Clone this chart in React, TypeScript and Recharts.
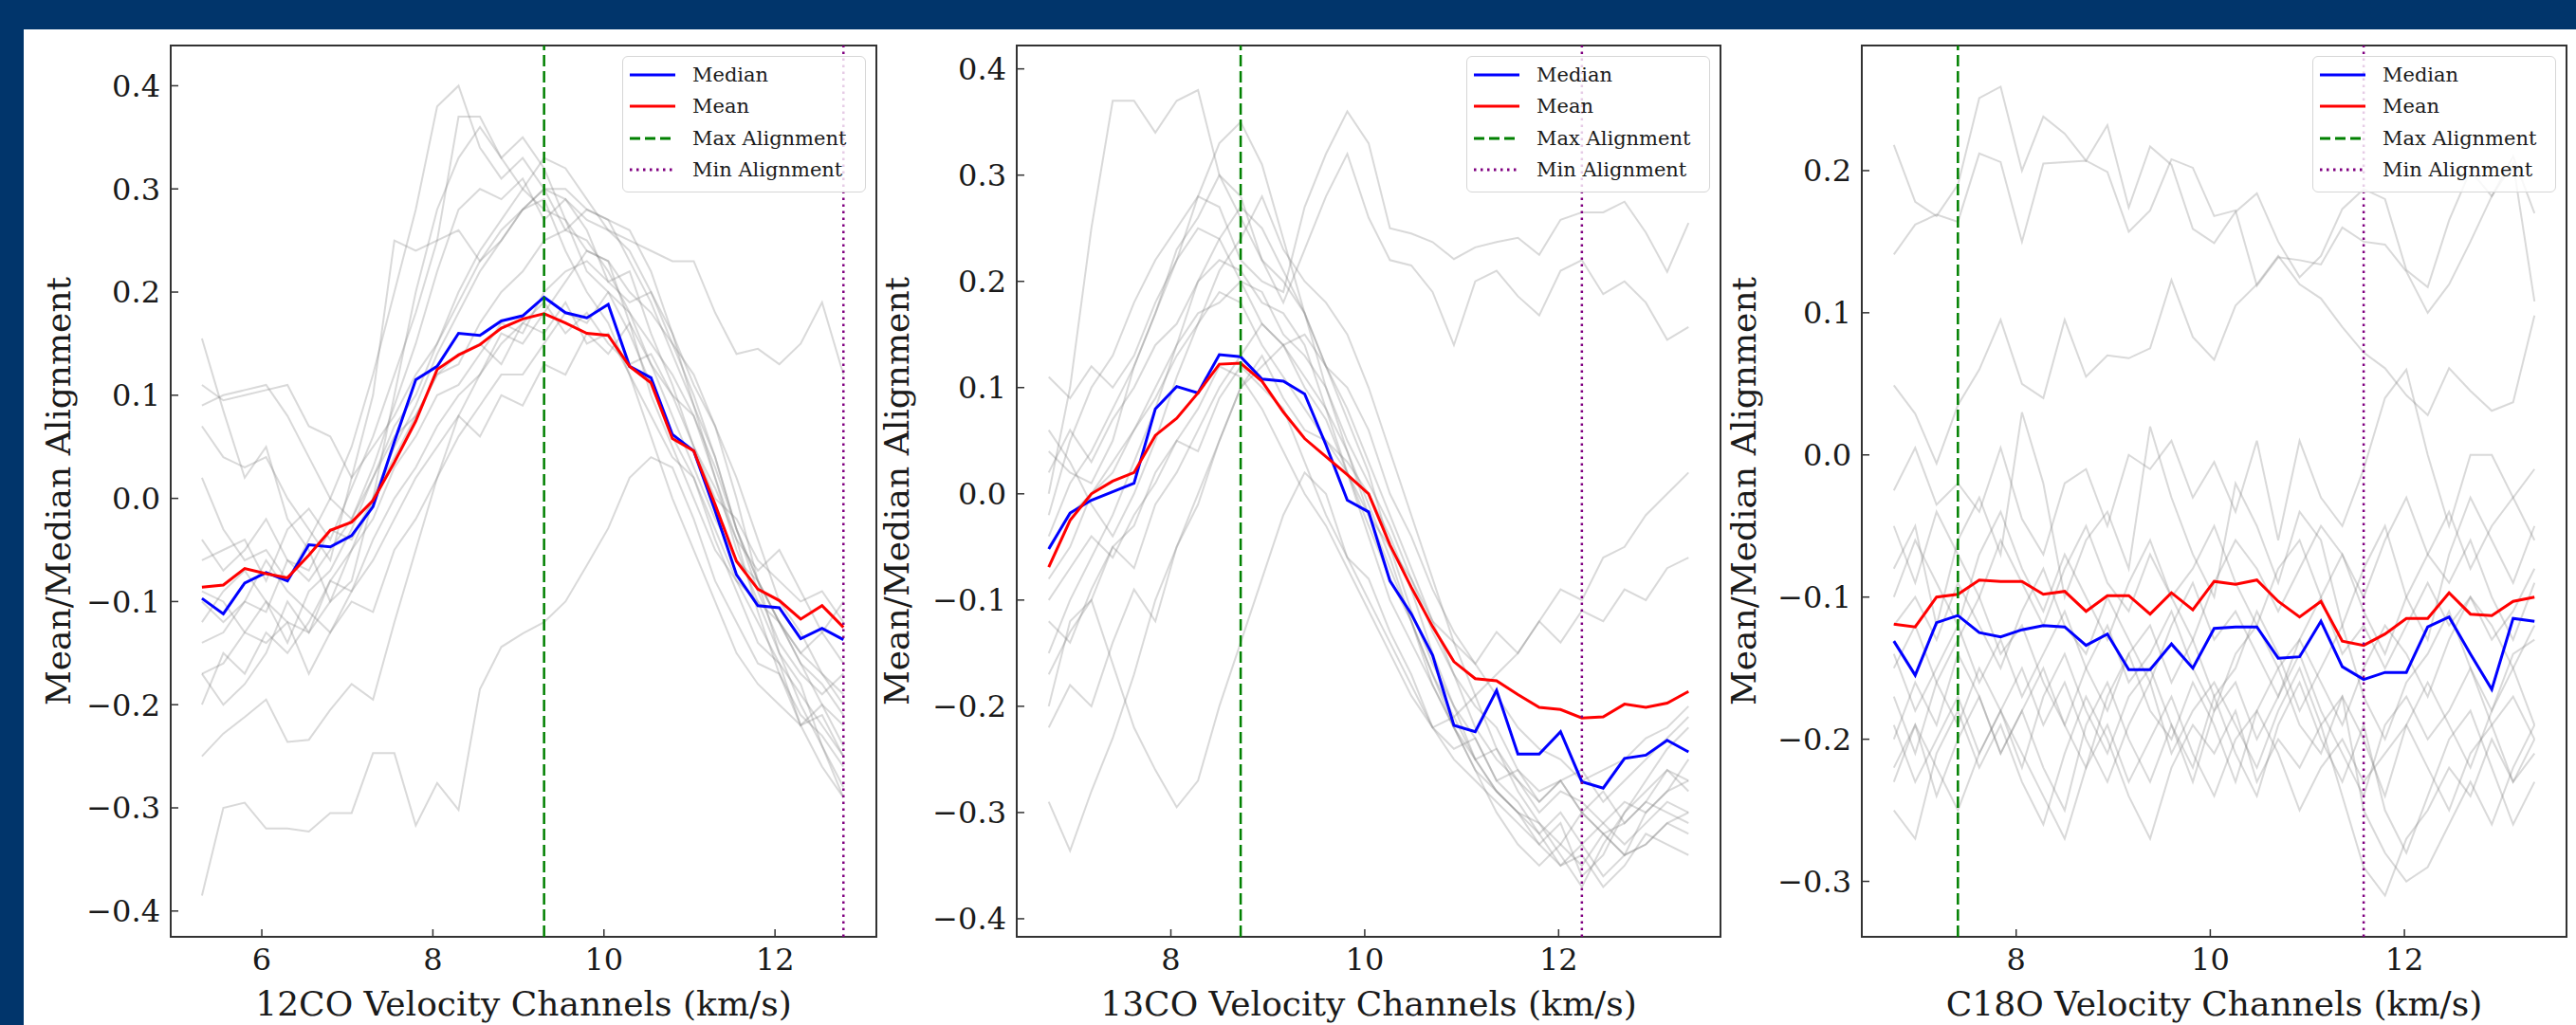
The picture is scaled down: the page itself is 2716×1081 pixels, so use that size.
import React from 'react';
import { LineChart, Line, XAxis, YAxis, ReferenceLine, ReferenceArea } from 'recharts';

// velocity channels (km/s)
const co12X = [5.3, 5.55, 5.8, 6.05, 6.3, 6.55, 6.8, 7.05, 7.3, 7.55, 7.8, 8.05, 8.3, 8.55, 8.8, 9.05, 9.3, 9.55, 9.8, 10.05, 10.3, 10.55, 10.8, 11.05, 11.3, 11.55, 11.8, 12.05, 12.3, 12.55, 12.8];
const co13X = [6.74, 6.96, 7.18, 7.4, 7.62, 7.84, 8.06, 8.28, 8.5, 8.72, 8.94, 9.16, 9.38, 9.6, 9.82, 10.04, 10.26, 10.48, 10.7, 10.92, 11.14, 11.36, 11.58, 11.8, 12.02, 12.24, 12.46, 12.68, 12.9, 13.12, 13.34];
const c18oX = [6.74, 6.96, 7.18, 7.4, 7.62, 7.84, 8.06, 8.28, 8.5, 8.72, 8.94, 9.16, 9.38, 9.6, 9.82, 10.04, 10.26, 10.48, 10.7, 10.92, 11.14, 11.36, 11.58, 11.8, 12.02, 12.24, 12.46, 12.68, 12.9, 13.12, 13.34];

const co12Median = [-0.097, -0.112, -0.082, -0.072, -0.080, -0.045, -0.047, -0.036, -0.008, 0.055, 0.115, 0.128, 0.160, 0.158, 0.172, 0.177, 0.195, 0.180, 0.175, 0.188, 0.128, 0.117, 0.062, 0.046, -0.012, -0.074, -0.104, -0.106, -0.136, -0.126, -0.137];
const co12Mean = [-0.086, -0.084, -0.068, -0.073, -0.077, -0.055, -0.031, -0.023, -0.002, 0.035, 0.075, 0.125, 0.139, 0.149, 0.165, 0.174, 0.179, 0.170, 0.160, 0.158, 0.128, 0.112, 0.058, 0.046, -0.006, -0.061, -0.088, -0.099, -0.117, -0.104, -0.125];
const co13Median = [-0.052, -0.018, -0.006, 0.002, 0.010, 0.080, 0.101, 0.095, 0.131, 0.129, 0.108, 0.106, 0.094, 0.046, -0.006, -0.017, -0.082, -0.113, -0.152, -0.218, -0.224, -0.185, -0.245, -0.245, -0.224, -0.271, -0.277, -0.249, -0.246, -0.232, -0.243];
const co13Mean = [-0.069, -0.025, 0.000, 0.012, 0.020, 0.055, 0.071, 0.095, 0.122, 0.123, 0.106, 0.077, 0.052, 0.035, 0.018, 0.000, -0.048, -0.088, -0.125, -0.158, -0.174, -0.176, -0.189, -0.201, -0.203, -0.211, -0.210, -0.198, -0.201, -0.197, -0.186];
const c18oMedian = [-0.131, -0.155, -0.118, -0.113, -0.125, -0.128, -0.123, -0.120, -0.121, -0.134, -0.126, -0.151, -0.151, -0.133, -0.150, -0.122, -0.121, -0.121, -0.143, -0.142, -0.117, -0.149, -0.158, -0.153, -0.153, -0.121, -0.114, -0.140, -0.165, -0.115, -0.117];
const c18oMean = [-0.119, -0.121, -0.100, -0.098, -0.088, -0.089, -0.089, -0.098, -0.096, -0.110, -0.099, -0.099, -0.112, -0.097, -0.109, -0.089, -0.091, -0.088, -0.103, -0.114, -0.103, -0.131, -0.134, -0.126, -0.115, -0.115, -0.097, -0.112, -0.113, -0.103, -0.100];

// individual region curves (grey)
const co12Traces = [
  [-0.385, -0.300, -0.295, -0.320, -0.320, -0.323, -0.305, -0.305, -0.247, -0.247, -0.317, -0.276, -0.302, -0.185, -0.144, -0.131, -0.120, -0.100, -0.065, -0.029, 0.020, 0.040, 0.030, -0.020, -0.080, -0.120, -0.160, -0.170, -0.220, -0.200, -0.240],
  [-0.250, -0.228, -0.212, -0.195, -0.236, -0.234, -0.205, -0.180, -0.195, -0.120, -0.050, 0.020, 0.080, 0.120, 0.150, 0.170, 0.160, 0.190, 0.150, 0.160, 0.120, 0.080, 0.040, 0.020, -0.040, -0.090, -0.140, -0.160, -0.190, -0.220, -0.250],
  [0.155, 0.085, 0.020, 0.050, -0.020, -0.050, -0.100, -0.080, 0.000, 0.100, 0.200, 0.280, 0.330, 0.360, 0.330, 0.300, 0.280, 0.270, 0.220, 0.200, 0.160, 0.110, 0.060, 0.020, -0.030, -0.080, -0.100, -0.120, -0.160, -0.180, -0.210],
  [0.110, 0.095, 0.100, 0.105, 0.110, 0.070, 0.060, 0.020, 0.050, 0.080, 0.120, 0.150, 0.190, 0.230, 0.260, 0.280, 0.300, 0.290, 0.270, 0.260, 0.250, 0.240, 0.230, 0.230, 0.180, 0.140, 0.145, 0.130, 0.150, 0.190, 0.120],
  [0.090, 0.100, 0.105, 0.110, 0.080, 0.040, 0.000, 0.050, 0.120, 0.200, 0.280, 0.380, 0.400, 0.340, 0.310, 0.330, 0.300, 0.260, 0.250, 0.220, 0.180, 0.130, 0.080, 0.030, -0.020, -0.060, -0.080, -0.120, -0.150, -0.170, -0.200],
  [0.070, 0.040, 0.030, 0.040, 0.000, -0.030, -0.060, 0.020, 0.100, 0.250, 0.240, 0.250, 0.260, 0.230, 0.250, 0.280, 0.290, 0.240, 0.200, 0.170, 0.120, 0.060, 0.000, -0.050, -0.100, -0.150, -0.180, -0.200, -0.220, -0.260, -0.290],
  [-0.170, -0.160, -0.130, -0.100, -0.120, -0.130, -0.100, -0.050, 0.000, 0.040, 0.080, 0.120, 0.130, 0.170, 0.200, 0.220, 0.250, 0.260, 0.280, 0.270, 0.230, 0.190, 0.140, 0.090, 0.040, -0.030, -0.080, -0.120, -0.160, -0.200, -0.220],
  [-0.120, -0.090, -0.070, -0.100, -0.140, -0.090, -0.070, -0.030, 0.020, 0.070, 0.100, 0.150, 0.200, 0.240, 0.270, 0.300, 0.330, 0.320, 0.290, 0.260, 0.240, 0.200, 0.150, 0.100, 0.040, -0.030, -0.090, -0.140, -0.170, -0.190, -0.170],
  [-0.200, -0.150, -0.170, -0.130, -0.150, -0.120, -0.080, -0.090, -0.040, 0.000, 0.030, 0.070, 0.100, 0.120, 0.160, 0.150, 0.180, 0.210, 0.240, 0.230, 0.200, 0.180, 0.150, 0.120, 0.070, 0.020, -0.040, -0.100, -0.130, -0.170, -0.190],
  [-0.060, -0.050, -0.040, -0.080, -0.030, -0.010, -0.040, 0.010, 0.060, 0.120, 0.180, 0.250, 0.370, 0.370, 0.330, 0.350, 0.320, 0.270, 0.240, 0.230, 0.170, 0.100, 0.050, 0.000, -0.050, -0.080, -0.120, -0.160, -0.220, -0.210, -0.250],
  [-0.100, -0.120, -0.100, -0.060, -0.090, -0.110, -0.130, -0.090, -0.060, -0.020, 0.020, 0.050, 0.080, 0.060, 0.100, 0.090, 0.130, 0.120, 0.160, 0.140, 0.170, 0.130, 0.100, 0.080, 0.020, -0.050, -0.100, -0.150, -0.200, -0.240, -0.280],
  [-0.140, -0.130, -0.100, -0.110, -0.060, -0.070, -0.030, -0.040, 0.000, 0.050, 0.090, 0.140, 0.180, 0.220, 0.250, 0.280, 0.300, 0.300, 0.280, 0.270, 0.260, 0.220, 0.160, 0.090, 0.020, -0.040, -0.110, -0.170, -0.210, -0.230, -0.260],
  [0.020, -0.030, -0.060, -0.050, -0.080, -0.040, 0.000, -0.020, 0.020, 0.060, 0.080, 0.120, 0.140, 0.150, 0.130, 0.170, 0.190, 0.160, 0.180, 0.150, 0.130, 0.140, 0.100, 0.050, 0.000, -0.020, -0.060, -0.080, -0.100, -0.090, -0.120],
  [-0.090, -0.100, -0.130, -0.140, -0.120, -0.170, -0.130, -0.100, -0.110, -0.050, -0.020, 0.020, 0.060, 0.090, 0.120, 0.120, 0.150, 0.180, 0.170, 0.200, 0.180, 0.150, 0.120, 0.080, 0.030, -0.030, -0.080, -0.120, -0.150, -0.130, -0.160],
  [-0.040, -0.070, -0.050, -0.020, -0.060, -0.080, -0.050, -0.020, 0.030, 0.090, 0.150, 0.220, 0.280, 0.300, 0.290, 0.310, 0.270, 0.290, 0.260, 0.210, 0.220, 0.160, 0.110, 0.050, 0.010, -0.040, -0.070, -0.050, -0.090, -0.130, -0.100],
  [-0.170, -0.200, -0.180, -0.150, -0.100, -0.130, -0.080, -0.050, -0.020, 0.030, 0.060, 0.100, 0.110, 0.140, 0.170, 0.160, 0.200, 0.220, 0.230, 0.210, 0.190, 0.200, 0.160, 0.110, 0.070, 0.000, -0.080, -0.150, -0.180, -0.240, -0.290],
];

const co13Traces = [
  [0.000, 0.100, 0.250, 0.370, 0.370, 0.340, 0.370, 0.380, 0.300, 0.260, 0.220, 0.200, 0.170, 0.120, 0.080, 0.030, -0.020, -0.070, -0.120, -0.170, -0.200, -0.220, -0.260, -0.280, -0.270, -0.300, -0.320, -0.310, -0.290, -0.300, -0.310],
  [-0.020, 0.050, 0.100, 0.130, 0.180, 0.220, 0.250, 0.280, 0.270, 0.220, 0.200, 0.190, 0.270, 0.320, 0.360, 0.330, 0.250, 0.245, 0.237, 0.221, 0.232, 0.237, 0.241, 0.225, 0.258, 0.265, 0.265, 0.275, 0.246, 0.209, 0.255],
  [0.040, 0.020, 0.010, 0.050, 0.120, 0.170, 0.230, 0.260, 0.300, 0.280, 0.220, 0.180, 0.230, 0.280, 0.320, 0.260, 0.220, 0.215, 0.190, 0.140, 0.200, 0.210, 0.186, 0.168, 0.210, 0.220, 0.188, 0.200, 0.180, 0.145, 0.157],
  [-0.290, -0.336, -0.280, -0.230, -0.170, -0.100, -0.050, 0.000, 0.050, 0.100, 0.120, 0.140, 0.100, 0.070, 0.020, -0.040, -0.100, -0.140, -0.180, -0.220, -0.260, -0.280, -0.300, -0.310, -0.330, -0.300, -0.320, -0.340, -0.330, -0.310, -0.320],
  [-0.200, -0.120, -0.100, -0.160, -0.220, -0.260, -0.295, -0.270, -0.200, -0.140, -0.080, -0.020, 0.020, 0.000, -0.060, -0.100, -0.140, -0.180, -0.220, -0.250, -0.270, -0.290, -0.310, -0.330, -0.350, -0.330, -0.360, -0.340, -0.330, -0.310, -0.300],
  [0.110, 0.090, 0.120, 0.100, 0.130, 0.180, 0.220, 0.250, 0.240, 0.200, 0.160, 0.140, 0.150, 0.120, 0.100, 0.060, 0.000, -0.040, -0.090, -0.130, -0.160, -0.190, -0.220, -0.240, -0.250, -0.270, -0.260, -0.250, -0.230, -0.220, -0.200],
  [-0.150, -0.100, -0.060, -0.020, 0.030, 0.080, 0.140, 0.200, 0.240, 0.270, 0.250, 0.210, 0.170, 0.120, 0.070, 0.020, -0.050, -0.110, -0.160, -0.200, -0.230, -0.270, -0.290, -0.320, -0.350, -0.340, -0.370, -0.350, -0.320, -0.330, -0.340],
  [-0.080, -0.050, 0.000, 0.030, 0.060, 0.100, 0.140, 0.170, 0.180, 0.200, 0.190, 0.150, 0.130, 0.100, 0.050, 0.010, -0.030, -0.080, -0.130, -0.170, -0.220, -0.250, -0.270, -0.300, -0.280, -0.290, -0.310, -0.290, -0.300, -0.280, -0.270],
  [0.060, 0.030, -0.010, -0.040, 0.000, 0.050, 0.110, 0.160, 0.210, 0.240, 0.280, 0.230, 0.200, 0.180, 0.150, 0.100, 0.040, -0.020, -0.080, -0.140, -0.190, -0.240, -0.280, -0.310, -0.340, -0.370, -0.330, -0.300, -0.280, -0.260, -0.270],
  [-0.220, -0.180, -0.200, -0.140, -0.090, -0.120, -0.050, -0.010, 0.050, 0.100, 0.130, 0.090, 0.060, 0.050, 0.030, 0.000, -0.040, -0.090, -0.150, -0.200, -0.250, -0.280, -0.300, -0.330, -0.310, -0.360, -0.340, -0.300, -0.270, -0.240, -0.220],
  [-0.100, -0.070, -0.040, -0.060, -0.020, 0.010, 0.050, 0.080, 0.120, 0.110, 0.080, 0.040, 0.000, -0.030, -0.070, -0.110, -0.150, -0.190, -0.220, -0.210, -0.190, -0.170, -0.150, -0.120, -0.090, -0.100, -0.060, -0.050, -0.020, 0.000, 0.020],
  [-0.040, 0.010, 0.040, 0.080, 0.120, 0.170, 0.220, 0.280, 0.330, 0.350, 0.310, 0.240, 0.170, 0.100, 0.040, -0.020, -0.070, -0.120, -0.170, -0.210, -0.250, -0.280, -0.300, -0.320, -0.300, -0.330, -0.310, -0.330, -0.310, -0.290, -0.300],
  [-0.120, -0.140, -0.090, -0.050, -0.070, -0.010, 0.020, 0.060, 0.100, 0.130, 0.160, 0.140, 0.110, 0.080, 0.040, -0.010, -0.060, -0.120, -0.170, -0.220, -0.250, -0.240, -0.270, -0.290, -0.270, -0.260, -0.290, -0.270, -0.250, -0.230, -0.210],
  [0.020, 0.060, 0.030, 0.070, 0.100, 0.140, 0.160, 0.200, 0.220, 0.210, 0.180, 0.170, 0.140, 0.080, 0.020, -0.030, -0.080, -0.120, -0.180, -0.220, -0.260, -0.300, -0.330, -0.350, -0.330, -0.350, -0.320, -0.340, -0.300, -0.280, -0.250],
  [-0.170, -0.130, -0.100, -0.050, -0.030, 0.020, 0.050, 0.040, 0.090, 0.120, 0.100, 0.080, 0.030, -0.020, -0.060, -0.080, -0.130, -0.170, -0.220, -0.240, -0.230, -0.270, -0.260, -0.290, -0.270, -0.300, -0.280, -0.310, -0.290, -0.260, -0.280],
  [-0.050, -0.020, 0.000, 0.020, 0.060, 0.090, 0.130, 0.160, 0.190, 0.180, 0.140, 0.110, 0.080, 0.050, 0.020, -0.020, -0.050, -0.080, -0.120, -0.140, -0.160, -0.130, -0.150, -0.120, -0.140, -0.110, -0.120, -0.090, -0.100, -0.070, -0.060],
];

const c18oTraces = [
  [0.218, 0.178, 0.168, 0.190, 0.251, 0.259, 0.200, 0.238, 0.226, 0.207, 0.232, 0.174, 0.217, 0.204, 0.159, 0.149, 0.171, 0.184, 0.150, 0.125, 0.140, 0.173, 0.187, 0.180, 0.130, 0.118, 0.165, 0.200, 0.182, 0.210, 0.170],
  [0.141, 0.162, 0.169, 0.164, 0.212, 0.206, 0.150, 0.205, 0.206, 0.207, 0.199, 0.157, 0.172, 0.208, 0.202, 0.168, 0.172, 0.119, 0.139, 0.137, 0.134, 0.160, 0.150, 0.148, 0.129, 0.100, 0.120, 0.150, 0.182, 0.205, 0.108],
  [0.049, 0.029, -0.006, 0.035, 0.060, 0.095, 0.050, 0.040, 0.095, 0.055, 0.070, 0.068, 0.075, 0.123, 0.083, 0.067, 0.105, 0.120, 0.140, 0.120, 0.110, 0.090, 0.072, 0.061, 0.042, 0.028, 0.061, 0.045, 0.031, 0.037, 0.098],
  [-0.025, 0.005, -0.035, -0.020, -0.040, 0.005, -0.045, -0.070, -0.020, -0.010, -0.050, 0.000, -0.010, 0.010, -0.030, -0.005, -0.040, 0.010, -0.060, 0.010, -0.030, -0.050, -0.010, 0.040, 0.060, 0.000, -0.050, 0.000, 0.000, -0.030, -0.010],
  [-0.08, -0.05, -0.12, -0.06, -0.03, -0.07, 0.03, -0.02, -0.10, -0.06, -0.04, -0.08, 0.02, -0.03, -0.07, -0.10, -0.02, -0.05, -0.09, -0.04, -0.06, -0.12, -0.08, -0.05, -0.10, -0.13, -0.07, -0.03, -0.06, -0.09, -0.05],
  [-0.20, -0.16, -0.19, -0.14, -0.17, -0.21, -0.18, -0.15, -0.19, -0.22, -0.17, -0.14, -0.18, -0.20, -0.16, -0.19, -0.23, -0.18, -0.15, -0.19, -0.21, -0.17, -0.20, -0.24, -0.19, -0.16, -0.19, -0.22, -0.18, -0.15, -0.19],
  [-0.25, -0.27, -0.21, -0.18, -0.22, -0.19, -0.23, -0.26, -0.21, -0.17, -0.20, -0.24, -0.27, -0.22, -0.19, -0.21, -0.18, -0.23, -0.20, -0.22, -0.19, -0.24, -0.29, -0.31, -0.27, -0.25, -0.22, -0.24, -0.20, -0.23, -0.21],
  [-0.14, -0.18, -0.15, -0.12, -0.16, -0.13, -0.17, -0.14, -0.11, -0.15, -0.18, -0.14, -0.12, -0.16, -0.13, -0.17, -0.15, -0.11, -0.14, -0.18, -0.15, -0.12, -0.17, -0.20, -0.16, -0.14, -0.11, -0.15, -0.18, -0.14, -0.13],
  [-0.22, -0.19, -0.24, -0.20, -0.17, -0.21, -0.18, -0.22, -0.25, -0.19, -0.16, -0.20, -0.23, -0.19, -0.22, -0.17, -0.21, -0.24, -0.19, -0.16, -0.20, -0.23, -0.19, -0.25, -0.28, -0.24, -0.20, -0.18, -0.22, -0.26, -0.23],
  [-0.12, -0.10, -0.13, -0.09, -0.12, -0.15, -0.11, -0.08, -0.12, -0.14, -0.10, -0.13, -0.16, -0.12, -0.09, -0.13, -0.11, -0.14, -0.17, -0.13, -0.10, -0.14, -0.12, -0.15, -0.12, -0.09, -0.12, -0.10, -0.13, -0.11, -0.08],
  [-0.17, -0.21, -0.16, -0.19, -0.15, -0.18, -0.22, -0.17, -0.14, -0.18, -0.21, -0.17, -0.15, -0.19, -0.23, -0.18, -0.16, -0.20, -0.17, -0.14, -0.18, -0.21, -0.24, -0.19, -0.17, -0.20, -0.18, -0.15, -0.19, -0.17, -0.20],
  [-0.19, -0.23, -0.20, -0.17, -0.21, -0.18, -0.15, -0.19, -0.16, -0.20, -0.23, -0.19, -0.16, -0.21, -0.18, -0.16, -0.19, -0.22, -0.18, -0.15, -0.19, -0.17, -0.25, -0.28, -0.30, -0.29, -0.26, -0.23, -0.26, -0.22, -0.19],
  [-0.15, -0.12, -0.16, -0.13, -0.10, -0.14, -0.12, -0.16, -0.19, -0.15, -0.12, -0.16, -0.14, -0.11, -0.15, -0.18, -0.14, -0.12, -0.15, -0.13, -0.16, -0.19, -0.15, -0.12, -0.14, -0.17, -0.13, -0.10, -0.12, -0.15, -0.12],
  [-0.10, -0.06, -0.09, -0.12, -0.07, -0.04, -0.08, -0.11, -0.07, -0.10, -0.13, -0.09, -0.06, -0.10, -0.08, -0.05, -0.09, -0.12, -0.08, -0.06, -0.10, -0.07, -0.11, -0.14, -0.10, -0.07, -0.04, -0.08, -0.05, -0.03, -0.06],
  [-0.23, -0.19, -0.22, -0.25, -0.21, -0.18, -0.21, -0.24, -0.27, -0.22, -0.19, -0.23, -0.20, -0.17, -0.21, -0.24, -0.20, -0.18, -0.21, -0.25, -0.22, -0.20, -0.23, -0.21, -0.19, -0.22, -0.25, -0.21, -0.19, -0.23, -0.20],
  [-0.05, -0.09, -0.04, -0.07, -0.10, -0.06, -0.09, -0.12, -0.08, -0.05, -0.09, -0.11, -0.07, -0.10, -0.13, -0.09, -0.06, -0.08, -0.11, -0.08, -0.05, -0.07, -0.10, -0.06, -0.03, -0.07, -0.09, -0.06, -0.10, -0.13, -0.09],
];

const wideTicks = [-0.4, -0.3, -0.2, -0.1, 0, 0.1, 0.2, 0.3, 0.4];
const c18oTicks = [-0.3, -0.2, -0.1, 0, 0.1, 0.2];

const FONT = '"DejaVu Serif", serif';
const TOP = 31;
const H = 1050;

function buildRows(xs: number[], median: number[], mean: number[], traces: number[][]) {
  return xs.map((x, i) => {
    const row: Record<string, number> = { x, median: median[i], mean: mean[i] };
    traces.forEach((t, k) => {
      row[`t${k}`] = t[i];
    });
    return row;
  });
}

const fmt = (v: number) => v.toFixed(1).replace('-', '\u2212');

const legendItems = [
  { label: 'Median', color: '#0000ff', dash: undefined as string | undefined },
  { label: 'Mean', color: '#ff0000', dash: undefined as string | undefined },
  { label: 'Max Alignment', color: '#008000', dash: '11 5' },
  { label: 'Min Alignment', color: '#800080', dash: '2.5 4.5' },
];

function LegendBox({ left }: { left: number }) {
  return (
    <div
      style={{
        position: 'absolute', left, top: 28, width: 257, height: 144, boxSizing: 'border-box',
        border: '1.5px solid #d6d6d6', borderRadius: 6, background: 'rgba(255,255,255,0.8)',
        fontFamily: FONT, fontSize: 21, color: '#1a1a1a',
      }}
    >
      {legendItems.map((it, k) => (
        <div key={it.label} style={{ position: 'absolute', left: 0, top: 5 + k * 33.3, height: 28, display: 'flex', alignItems: 'center', whiteSpace: 'nowrap' }}>
          <svg width={56} height={10} style={{ marginLeft: 6 }}>
            <line x1={1} y1={5} x2={49} y2={5} stroke={it.color} strokeWidth={3} strokeDasharray={it.dash} />
          </svg>
          <span style={{ marginLeft: 11 }}>{it.label}</span>
        </div>
      ))}
    </div>
  );
}

function XLabel({ viewBox, text }: any) {
  if (!viewBox) return null;
  return (
    <text x={viewBox.x + viewBox.width / 2} y={viewBox.y + 83} textAnchor="middle" fontFamily={FONT} fontSize={36} fill="#1a1a1a">
      {text}
    </text>
  );
}

function YLabel({ viewBox, gap }: any) {
  if (!viewBox) return null;
  const cx = viewBox.x + viewBox.width - gap + 12;
  const cy = viewBox.y + viewBox.height / 2;
  return (
    <text x={cx} y={cy} transform={`rotate(-90 ${cx} ${cy})`} textAnchor="middle" fontFamily={FONT} fontSize={36} fill="#1a1a1a">
      Mean/Median Alignment
    </text>
  );
}

interface PanelProps {
  left: number;
  width: number;
  yAxisWidth: number;
  xDomain: [number, number];
  xTicks: number[];
  yDomain: [number, number];
  yTicks: number[];
  rows: Record<string, number>[];
  traceCount: number;
  maxX: number;
  minX: number;
  xLabel: string;
  labelGap: number;
  legendLeft: number;
}

function Panel(p: PanelProps) {
  const tickStyle = { fill: '#1a1a1a', fontSize: 32, fontFamily: FONT };
  return (
    <div style={{ position: 'absolute', left: p.left, top: TOP, width: p.width, height: H }}>
      <LineChart width={p.width} height={H} data={p.rows} margin={{ top: 17, right: 10, bottom: 33, left: 0 }}>
        <XAxis
          dataKey="x" type="number" domain={p.xDomain} ticks={p.xTicks} allowDataOverflow
          axisLine={false} tickSize={-8} tickMargin={20} height={60}
          tickLine={{ stroke: '#333', strokeWidth: 1.5 }} tick={tickStyle}
          label={<XLabel text={p.xLabel} />}
        />
        <YAxis
          type="number" domain={p.yDomain} ticks={p.yTicks} allowDataOverflow width={p.yAxisWidth}
          axisLine={false} tickSize={-8} tickMargin={19} tickFormatter={fmt}
          tickLine={{ stroke: '#333', strokeWidth: 1.5 }} tick={tickStyle}
          label={<YLabel gap={p.labelGap} />}
        />
        {Array.from({ length: p.traceCount }, (_, k) => (
          <Line key={k} type="linear" dataKey={`t${k}`} stroke="#808080" strokeOpacity={0.3} strokeWidth={2} dot={false} activeDot={false} isAnimationActive={false} />
        ))}
        <Line type="linear" dataKey="median" stroke="#0000ff" strokeWidth={3} dot={false} activeDot={false} isAnimationActive={false} />
        <Line type="linear" dataKey="mean" stroke="#ff0000" strokeWidth={3} dot={false} activeDot={false} isAnimationActive={false} />
        <ReferenceLine x={p.maxX} stroke="#008000" strokeWidth={2.5} strokeDasharray="12 5" />
        <ReferenceLine x={p.minX} stroke="#800080" strokeWidth={2.5} strokeDasharray="2.5 4.5" />
        <ReferenceArea x1={p.xDomain[0]} x2={p.xDomain[1]} y1={p.yDomain[0]} y2={p.yDomain[1]} fill="none" stroke="#333" strokeWidth={2} />
      </LineChart>
      <LegendBox left={p.legendLeft} />
    </div>
  );
}

export default function App() {
  return (
    <div style={{ position: 'absolute', left: 0, top: 0, width: 2716, height: 1081, background: '#01356b', overflow: 'hidden' }}>
      <div style={{ position: 'absolute', left: 25, top: TOP, width: 2691, height: H, background: '#ffffff' }} />
      <Panel
        left={25} width={909} yAxisWidth={155}
        xDomain={[4.935, 13.185]} xTicks={[6, 8, 10, 12]}
        yDomain={[-0.425, 0.439]} yTicks={wideTicks}
        rows={buildRows(co12X, co12Median, co12Mean, co12Traces)} traceCount={co12Traces.length}
        maxX={9.3} minX={12.8} xLabel="12CO Velocity Channels (km/s)" labelGap={118} legendLeft={631}
      />
      <Panel
        left={900} width={924} yAxisWidth={172}
        xDomain={[6.41, 13.67]} xTicks={[8, 10, 12]}
        yDomain={[-0.417, 0.422]} yTicks={wideTicks}
        rows={buildRows(co13X, co13Median, co13Mean, co13Traces)} traceCount={co13Traces.length}
        maxX={8.72} minX={12.24} xLabel="13CO Velocity Channels (km/s)" labelGap={126} legendLeft={646}
      />
      <Panel
        left={1800} width={916} yAxisWidth={163}
        xDomain={[6.41, 13.67]} xTicks={[8, 10, 12]}
        yDomain={[-0.339, 0.288]} yTicks={c18oTicks}
        rows={buildRows(c18oX, c18oMedian, c18oMean, c18oTraces)} traceCount={c18oTraces.length}
        maxX={7.4} minX={11.58} xLabel="C18O Velocity Channels (km/s)" labelGap={124} legendLeft={638}
      />
    </div>
  );
}
